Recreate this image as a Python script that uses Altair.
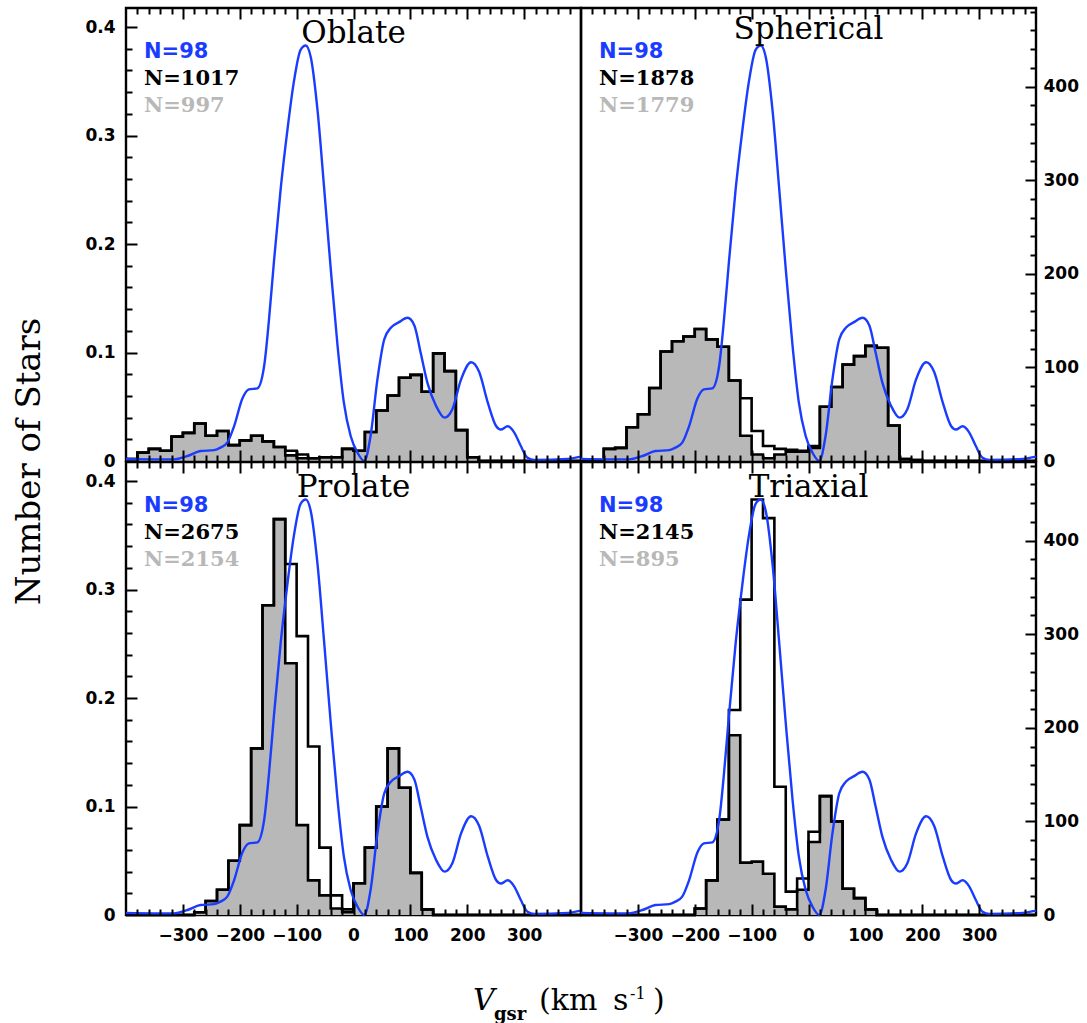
import altair as alt
import pandas as pd

# ---------------- data ----------------
EDGES = list(range(-400, 401, 20))  # 40 bins of 20 km/s

OBLATE_ALL = [2, 9, 13, 11, 26, 30, 40, 27, 32, 17, 22, 27, 21, 15, 11, 7, 3, 4, 4, 13,
              11, 31, 54, 70, 89, 92, 74, 115, 96, 33, 4, 0, 0, 0, 0, 0, 0, 0, 0, 0]
OBLATE_SEL = [2, 9, 13, 11, 26, 30, 40, 27, 32, 17, 22, 27, 21, 15, 6, 3, 3, 4, 4, 13,
              11, 31, 54, 70, 89, 92, 74, 115, 96, 33, 4, 0, 0, 0, 0, 0, 0, 0, 0, 0]

SPHERICAL_ALL = [0, 0, 13, 14, 36, 50, 78, 117, 128, 133, 141, 130, 122, 86, 67, 32, 16, 13, 12, 11,
                 16, 58, 79, 103, 112, 123, 121, 38, 2, 1, 0, 0, 0, 0, 0, 0, 0, 0, 0, 0]
SPHERICAL_SEL = [0, 0, 13, 14, 36, 50, 78, 117, 128, 133, 141, 130, 122, 86, 27, 7, 3, 7, 10, 10,
                 14, 58, 79, 103, 112, 123, 121, 38, 2, 1, 0, 0, 0, 0, 0, 0, 0, 0, 0, 0]

PROLATE_ALL = [0, 0, 0, 0, 0, 0, 3, 15, 27, 58, 96, 178, 331, 423, 375, 298, 180, 72, 21, 6,
               34, 72, 116, 178, 136, 45, 6, 0, 0, 0, 0, 0, 0, 0, 0, 0, 0, 0, 0, 0]
PROLATE_SEL = [0, 0, 0, 0, 0, 0, 3, 15, 27, 58, 96, 178, 331, 423, 269, 96, 37, 21, 7, 3,
               34, 72, 116, 178, 136, 45, 6, 0, 0, 0, 0, 0, 0, 0, 0, 0, 0, 0, 0, 0]

TRIAXIAL_ALL = [0, 0, 0, 0, 0, 0, 0, 0, 0, 0, 7, 37, 102, 219, 337, 444, 424, 137, 25, 39,
                89, 127, 100, 28, 18, 6, 0, 0, 0, 0, 0, 0, 0, 0, 0, 0, 0, 0, 0, 0]
TRIAXIAL_SEL = [0, 0, 0, 0, 0, 0, 0, 0, 0, 0, 7, 37, 102, 192, 56, 57, 44, 9, 6, 27,
                78, 127, 100, 28, 18, 6, 0, 0, 0, 0, 0, 0, 0, 0, 0, 0, 0, 0, 0, 0]

# observed smoothed distribution (N=98), left axis units
KDE_V = [-400, -316, -292, -269, -245, -234, -222, -210, -195, -184, -169, -157, -149, -140,
         -128, -116, -105, -93, -84, -75, -63, -52, -40, -28, -17, -5, 7, 19, 30, 42, 54, 66,
         80, 95, 107, 118, 130, 145, 160, 174, 189, 207, 221, 236, 251, 259, 271, 283, 294,
         306, 318, 377, 400]
KDE_F = [0.002, 0.0015, 0.0046, 0.0092, 0.010, 0.0123, 0.0169, 0.032, 0.058, 0.066, 0.067,
         0.088, 0.128, 0.183, 0.251, 0.306, 0.349, 0.379, 0.383, 0.372, 0.322, 0.254, 0.177,
         0.106, 0.054, 0.023, 0.0077, 0.0, 0.023, 0.075, 0.112, 0.123, 0.128, 0.132, 0.125,
         0.100, 0.072, 0.051, 0.040, 0.048, 0.075, 0.091, 0.082, 0.054, 0.032, 0.029, 0.032,
         0.026, 0.014, 0.003, 0.001, 0.002, 0.004]

PANEL_NAMES = ["Oblate", "Spherical", "Prolate", "Triaxial"]
N_OBS = "N=98"
N_ALL = ["N=1017", "N=1878", "N=2675", "N=2145"]
N_SEL = ["N=997", "N=1779", "N=2154", "N=895"]
ALL_COUNTS = [OBLATE_ALL, SPHERICAL_ALL, PROLATE_ALL, TRIAXIAL_ALL]
SEL_COUNTS = [OBLATE_SEL, SPHERICAL_SEL, PROLATE_SEL, TRIAXIAL_SEL]

X_LABELS = [-300, -200, -100, 0, 100, 200, 300]
X_MAJOR = [-300, -200, -100, 0, 100, 200, 300]
X_MINOR = [v for v in range(-380, 400, 20) if v % 100]
F_LABELS = [0, 0.1, 0.2, 0.3, 0.4]
F_MAJOR = [0.1, 0.2, 0.3, 0.4]
F_MINOR = [round(0.02 * k, 2) for k in range(1, 21) if k % 5]
C_LABELS = [0, 100, 200, 300, 400]
C_MAJOR = [100, 200, 300, 400]
C_MINOR = [v for v in range(20, 481, 20) if v % 100]

# ---------------- style ----------------
W, H = 455, 453
BLUE = "#1a3cff"
GRAY = "#b8b8b8"
SANS = "DejaVu Sans"
SERIF = "DejaVu Serif"

xs = alt.Scale(domain=[-400, 400], nice=False, zero=False)
fs = alt.Scale(domain=[0, 0.4176], nice=False, zero=False)
cs = alt.Scale(domain=[0, 484], nice=False, zero=False)


def tick_axis(orient, offset, values, size):
    return alt.Axis(orient=orient, offset=offset, values=values, tickSize=size, tickWidth=2,
                    tickColor="black", labels=False, domain=False, grid=False, title=None,
                    zindex=2)


def label_axis(orient, values, pad, expr=None):
    kw = dict(orient=orient, values=values, ticks=False, tickSize=0, labelPadding=pad,
              labelFont=SANS, labelFontSize=17, labelFontWeight="bold", labelColor="black",
              domain=False, grid=False, title=None, labelOverlap=False)
    if expr:
        kw["labelExpr"] = expr
    return alt.Axis(**kw)


def text(txt, x, y, color="black", font=SERIF, size=21, weight="normal", style="normal",
         align="left", baseline="alphabetic", angle=0):
    return alt.Chart(pd.DataFrame({"t": [txt]})).mark_text(
        color=color, font=font, fontSize=size, fontWeight=weight, fontStyle=style,
        align=align, baseline=baseline, angle=angle
    ).encode(text="t:N", x=alt.value(x), y=alt.value(y))


def make_panel(i):
    side = "left" if i % 2 == 0 else "right"
    bottom = i >= 2
    hist = pd.DataFrame({"v": EDGES, "all": ALL_COUNTS[i] + [0], "sel": SEL_COUNTS[i] + [0]})
    kde = pd.DataFrame({"v": KDE_V, "f": KDE_F})
    xn = alt.X("v:Q", scale=xs, axis=None)

    layers = [
        alt.Chart(hist).mark_area(interpolate="step-after", color=GRAY).encode(
            x=xn, y=alt.Y("sel:Q", scale=cs, axis=None)),
        alt.Chart(hist).mark_line(interpolate="step-after", color="black",
                                  strokeWidth=2.6).encode(
            x=xn, y=alt.Y("all:Q", scale=cs, axis=None)),
        alt.Chart(hist).mark_line(interpolate="step-after", color="black",
                                  strokeWidth=2.6).encode(
            x=xn, y=alt.Y("sel:Q", scale=cs, axis=None)),
        alt.Chart(kde).mark_line(interpolate="monotone", color=BLUE, strokeWidth=2.4).encode(
            x=xn, y=alt.Y("f:Q", scale=fs, axis=None)),
    ]
    if side == "right":
        for ax in [label_axis("right", C_LABELS, 7),
                   tick_axis("left", -W, C_MAJOR, 11),
                   tick_axis("left", -W, C_MINOR, 6)]:
            layers.append(alt.Chart(hist).mark_point(opacity=0).encode(
                x=xn, y=alt.Y("all:Q", scale=cs, axis=ax)))
    else:
        for ax in [label_axis("left", F_LABELS, 11,
                              "datum.value == 0 ? '0' : format(datum.value, '.1f')"),
                   tick_axis("right", -W, F_MAJOR, 11),
                   tick_axis("right", -W, F_MINOR, 6)]:
            layers.append(alt.Chart(kde).mark_point(opacity=0).encode(
                x=xn, y=alt.Y("f:Q", scale=fs, axis=ax)))

    xaxes = [tick_axis("top", -H, X_MAJOR, 11), tick_axis("top", -H, X_MINOR, 6),
             tick_axis("bottom", -H, X_MAJOR, 11), tick_axis("bottom", -H, X_MINOR, 6)]
    if bottom:
        xaxes.append(label_axis("bottom", X_LABELS, 12))
    for ax in xaxes:
        layers.append(alt.Chart(kde).mark_point(opacity=0).encode(
            x=alt.X("v:Q", scale=xs, axis=ax), y=alt.Y("f:Q", scale=fs, axis=None)))

    title_y = 31 if i == 1 else 35
    layers += [
        text(PANEL_NAMES[i], W / 2, title_y, size=31, align="center"),
        text(N_OBS, 18, 50, color=BLUE, font=SANS, weight="bold"),
        text(N_ALL[i], 18, 77, color="black", weight="bold"),
        text(N_SEL[i], 18, 104, color=GRAY, weight="bold"),
    ]
    if i == 0:
        layers.append(text("Number of Stars", -96, H + 0.5, size=34, align="center",
                           baseline="middle", angle=270))
    if i == 2:
        layers += [
            text("V", 347, 548, size=30, style="italic"),
            text("gsr", 368, 558, size=18, weight="bold"),
            text("(km", 413, 548, size=30),
            text("s", 487, 548, size=30),
            text("-1", 504, 537, size=16),
            text(")", 527, 548, size=30),
        ]

    return alt.layer(*layers).resolve_scale(y="independent").resolve_axis(
        x="independent", y="independent").properties(width=W, height=H)


panels = [make_panel(i) for i in range(4)]

chart = alt.concat(*panels, columns=2, spacing={"row": 1, "column": 0}, bounds="flush").properties(
    padding={"left": 11, "top": 5, "right": 5, "bottom": 5},
    background="white",
).configure_view(stroke="black", strokeWidth=2.4)

chart.save("out.html", embed_options={"renderer": "svg", "actions": False})
